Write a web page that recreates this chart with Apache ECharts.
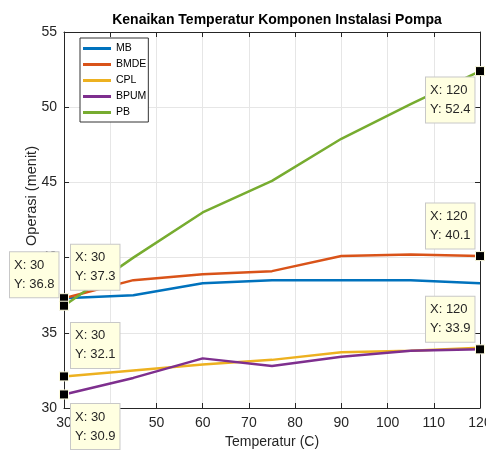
<!DOCTYPE html>
<html>
<head>
<meta charset="utf-8">
<script src="https://cdn.jsdelivr.net/npm/echarts@6/dist/echarts.min.js"></script>
<style>
  html, body { margin: 0; padding: 0; background: #fff; }
  #chart { width: 486px; height: 452px; }
</style>
</head>
<body>
<div id="chart"></div>
<script>
// data
const temps = [30, 45, 60, 75, 90, 105, 120];
const mb    = [37.3, 37.5, 38.3, 38.5, 38.5, 38.5, 38.3];
const bmde  = [37.3, 38.5, 38.9, 39.1, 40.1, 40.2, 40.1];
const cpl   = [32.1, 32.5, 32.9, 33.2, 33.7, 33.8, 34.0];
const bpum  = [30.9, 32.0, 33.3, 32.8, 33.4, 33.8, 33.9];
const pb    = [36.8, 40.0, 43.0, 45.1, 47.9, 50.2, 52.4];

const xTicks = [30, 40, 50, 60, 70, 80, 90, 100, 110, 120];
const yTicks = [30, 35, 40, 45, 50, 55];

const colors = ['#0072BD', '#D95319', '#EDB120', '#7E2F8E', '#77AC30'];
const font = 'Liberation Sans, Arial, sans-serif';

// datatip: black square + yellow box, offset = where the box sits
function tip(vals, i, offset) {
  return {
    coord: [temps[i], vals[i]],
    label: { offset: offset }
  };
}

function tipSeries(name, vals, tips, idx) {
  return {
    name: name,
    type: 'line',
    data: temps.map((t, i) => [t, vals[i]]),
    showSymbol: false,
    symbol: 'none',
    lineStyle: { width: 2.5, color: colors[idx] },
    itemStyle: { color: colors[idx] },
    markPoint: {
      symbol: 'rect',
      symbolSize: 9,
      itemStyle: { color: '#000', borderColor: '#fffde0', borderWidth: 1 },
      label: {
        show: true,
        position: 'inside',
        align: 'left',
        verticalAlign: 'middle',
        fontFamily: font,
        fontSize: 13,
        lineHeight: 19,
        color: '#262626',
        backgroundColor: '#ffffe1',
        borderColor: '#c8c8c8',
        borderWidth: 1,
        padding: [4, 4, 3, 4],
        formatter: p => 'X: ' + p.data.coord[0] + '\nY: ' + p.data.coord[1].toFixed(1)
      },
      data: tips
    },
    animation: false
  };
}

const myChart = echarts.init(document.getElementById('chart'));

const axisLineStyle = { color: '#262626', width: 1 };

const option = {
  backgroundColor: '#fff',
  title: {
    text: 'Kenaikan Temperatur Komponen Instalasi Pompa',
    left: 272,
    top: 8,
    textAlign: 'center',
    textStyle: { fontFamily: font, fontSize: 14, fontWeight: 'bold', color: '#000' }
  },
  legend: {
    orient: 'vertical',
    left: 80,
    top: 38,
    icon: 'rect',
    itemWidth: 28,
    itemHeight: 3,
    itemGap: 3,
    padding: [4, 2, 3, 3],
    backgroundColor: '#fff',
    borderColor: '#333',
    borderWidth: 1,
    textStyle: { fontFamily: font, fontSize: 10.5, color: '#000', lineHeight: 13 },
    data: ['MB', 'BMDE', 'CPL', 'BPUM', 'PB']
  },
  grid: { left: 64, right: 6, top: 32, bottom: 44, outerBoundsMode: 'none' },
  xAxis: [{
    type: 'value',
    min: xTicks[0],
    max: xTicks[xTicks.length - 1],
    interval: 10,
    name: 'Temperatur (C)',
    nameLocation: 'middle',
    nameGap: 27,
    nameMoveOverlap: false,
    nameTextStyle: { fontFamily: font, fontSize: 14, color: '#262626' },
    axisLine: { lineStyle: axisLineStyle },
    axisTick: { inside: true, length: 5, lineStyle: axisLineStyle },
    axisLabel: { fontFamily: font, fontSize: 14, color: '#262626', margin: 8 },
    splitLine: { show: true, lineStyle: { color: '#e6e6e6', width: 1 } }
  }, {
    type: 'value',
    position: 'top',
    min: xTicks[0],
    max: xTicks[xTicks.length - 1],
    interval: 10,
    axisLine: { show: true, lineStyle: axisLineStyle },
    axisTick: { show: true, inside: true, length: 5, lineStyle: axisLineStyle },
    axisLabel: { show: false },
    splitLine: { show: false }
  }],
  yAxis: [{
    type: 'value',
    min: yTicks[0],
    max: yTicks[yTicks.length - 1],
    interval: 5,
    name: 'Operasi (menit)',
    nameLocation: 'middle',
    nameGap: 25,
    nameMoveOverlap: false,
    nameTextStyle: { fontFamily: font, fontSize: 14.5, color: '#262626', padding: [0, 0, 0, 48] },
    axisLine: { show: true, lineStyle: axisLineStyle },
    axisTick: { show: true, inside: true, length: 5, lineStyle: axisLineStyle },
    axisLabel: { fontFamily: font, fontSize: 14, color: '#262626', margin: 7 },
    splitLine: { show: true, lineStyle: { color: '#e6e6e6', width: 1 } }
  }, {
    type: 'value',
    position: 'right',
    min: yTicks[0],
    max: yTicks[yTicks.length - 1],
    interval: 5,
    axisLine: { show: true, lineStyle: axisLineStyle },
    axisTick: { show: true, inside: true, length: 5, lineStyle: axisLineStyle },
    axisLabel: { show: false },
    splitLine: { show: false }
  }],
  series: [
    tipSeries('MB', mb, [], 0),
    tipSeries('BMDE', bmde, [tip(bmde, 0, [7, -31]), tip(bmde, 6, [-54, -30])], 1),
    tipSeries('CPL', cpl, [tip(cpl, 0, [7, -31])], 2),
    tipSeries('BPUM', bpum, [tip(bpum, 0, [7, 32]), tip(bpum, 6, [-54, -30])], 3),
    tipSeries('PB', pb, [tip(pb, 0, [-54, -31]), tip(pb, 6, [-54, 29])], 4)
  ],
  animation: false
};

myChart.setOption(option);
</script>
</body>
</html>
